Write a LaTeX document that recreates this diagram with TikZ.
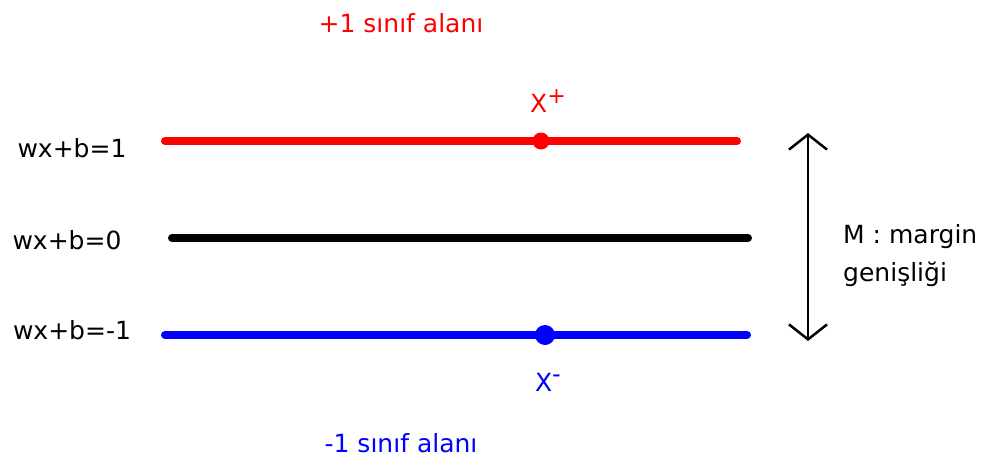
\documentclass[tikz,border=0pt]{standalone}
\usepackage{fontspec}
\setmainfont{DejaVu Sans}
\usetikzlibrary{arrows.meta}
\begin{document}
\begin{tikzpicture}[x=1pt,y=-1pt,
  hline/.style={line width=8pt,line cap=round},
  lbl/.style={font=\fontsize{25}{38}\selectfont,inner sep=0pt},
  dotmark/.style={circle,fill,inner sep=0pt}]
\useasboundingbox (0,0) rectangle (1003,463);
% class area labels
\node[lbl,text=red] (ptop) at (401,23) {+1 sınıf alanı};
\node[lbl,text=blue] (pbot) at (401,443) {-1 sınıf alanı};
% lines
\coordinate (r1) at (165,141); \coordinate (r2) at (737,141);
\coordinate (k1) at (172,238); \coordinate (k2) at (748,238);
\coordinate (b1) at (165,335); \coordinate (b2) at (747,335);
\draw[hline,red] (r1) -- (r2);
\draw[hline,black] (k1) -- (k2);
\draw[hline,blue] (b1) -- (b2);
\node[dotmark,red,minimum size=17pt] (xp) at (541,141) {};
\node[dotmark,blue,minimum size=20pt] (xm) at (545,335) {};
% point labels
\node[lbl,text=red] (xpl) at (548,101) {X\raisebox{9pt}{\fontsize{22}{22}\selectfont +}};
\node[lbl,text=blue] (xml) at (548,382) {X\raisebox{9pt}{\fontsize{24}{24}\selectfont -}};
% equation labels
\node[lbl] (e1) at (72,148) {wx+b=1};
\node[lbl] (e0) at (67,240) {wx+b=0};
\node[lbl] (em) at (72,330) {wx+b=-1};
% margin arrow
\coordinate (at) at (808,133); \coordinate (ab) at (808,341);
\draw[line width=2.5pt,{Straight Barb[length=15pt,width=38pt,line width=2.5pt]}-{Straight Barb[length=15pt,width=38pt,line width=2.5pt]}] (at) -- (ab);
\node[lbl,anchor=west,align=left] (m) at (843,256) {M : margin\\genişliği};
\end{tikzpicture}
\end{document}
